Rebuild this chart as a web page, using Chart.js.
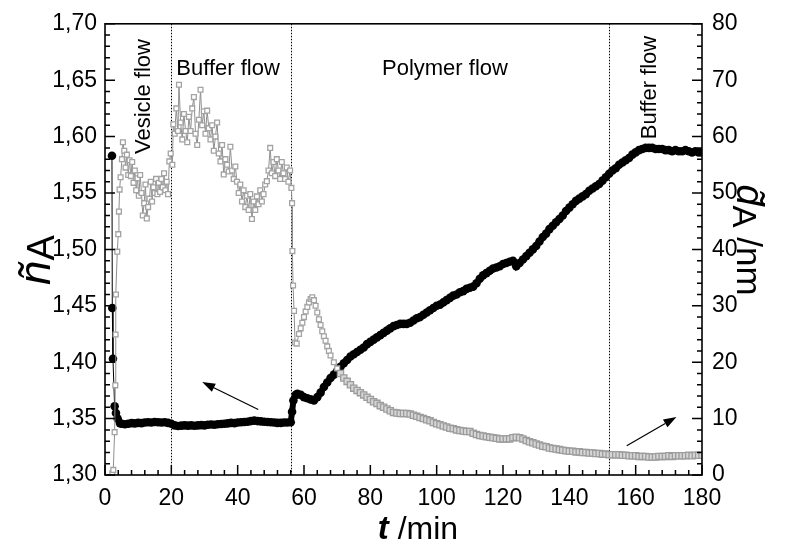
<!DOCTYPE html>
<html>
<head>
<meta charset="utf-8">
<script src="https://cdn.jsdelivr.net/npm/chart.js@4"></script>
<style>
html, body { margin: 0; padding: 0; background: #fff; }
#wrap { width: 789px; height: 547px; }
</style>
</head>
<body>
<div id="wrap"><canvas id="chart"></canvas></div>
<script>
// refractive index n_A (left axis), black circles
const t_n = [
    2.1, 2.2, 2.4, 2.9, 3.3, 3.8, 4.5,
    5, 6, 7, 8, 9, 10, 11, 12, 13, 14,
    15, 16, 17, 18, 19, 20, 21, 22, 23, 24,
    25, 26, 27, 28, 29, 30, 31, 32, 33, 34,
    35, 36, 37, 38, 39, 40, 41, 42, 43, 44,
    45, 46, 47, 48, 49, 50, 51, 52, 53, 54,
    55, 56, 56.4, 56.8, 57.5,
    58, 59, 60, 61, 62, 63, 64, 65, 66, 67,
    68, 69, 70, 71, 72, 73, 74, 75, 76, 77,
    78, 79, 80, 81, 82, 83, 84, 85, 86, 87,
    88, 89, 90, 91, 92, 93, 94, 95, 96, 97,
    98, 99, 100, 101, 102, 103, 104, 105, 106, 107,
    108, 109, 110, 111, 112, 113, 114, 115, 116, 117,
    118, 119, 120, 121, 122, 123, 124, 125, 126, 127,
    128, 129, 130, 131, 132, 133, 134, 135, 136, 137,
    138, 139, 140, 141, 142, 143, 144, 145, 146, 147,
    148, 149, 150, 151, 152, 153, 154, 155, 156, 157,
    158, 159, 160, 161, 162, 163, 164, 165, 166, 167,
    168, 169, 170, 171, 172, 173, 174, 175, 176, 177,
    178, 179, 180
];
const n_A = [
    1.583, 1.448, 1.403, 1.361, 1.355, 1.350, 1.346,
    1.3455, 1.3450, 1.3455, 1.3460, 1.3458, 1.3462, 1.3460, 1.3465, 1.3468, 1.3465,
    1.3470, 1.3468, 1.3466, 1.3468, 1.3462, 1.3455, 1.3440, 1.3435, 1.3438, 1.3440,
    1.3438, 1.3440, 1.3436, 1.3440, 1.3442, 1.3440, 1.3445, 1.3448, 1.3446, 1.3450,
    1.3452, 1.3455, 1.3458, 1.3462, 1.3460, 1.3465, 1.3468, 1.3470, 1.3472, 1.3478,
    1.3482, 1.3478, 1.3475, 1.3472, 1.3470, 1.3468, 1.3465, 1.3462, 1.3462, 1.3465,
    1.3466, 1.3468, 1.356, 1.366, 1.371,
    1.372, 1.371, 1.369, 1.368, 1.367, 1.366, 1.369, 1.373, 1.378, 1.382,
    1.386, 1.389, 1.392, 1.396, 1.399, 1.402, 1.405, 1.407, 1.409, 1.411,
    1.413, 1.416, 1.418, 1.420, 1.422, 1.424, 1.426, 1.428, 1.430, 1.432,
    1.433, 1.434, 1.434, 1.434, 1.435, 1.437, 1.439, 1.440, 1.442, 1.444,
    1.446, 1.448, 1.450, 1.451, 1.453, 1.455, 1.457, 1.459, 1.460, 1.462,
    1.463, 1.465, 1.466, 1.467, 1.470, 1.474, 1.477, 1.479, 1.481, 1.483,
    1.484, 1.485, 1.487, 1.488, 1.489, 1.490, 1.485, 1.488, 1.491, 1.494,
    1.497, 1.500, 1.503, 1.507, 1.511, 1.514, 1.518, 1.521, 1.524, 1.527,
    1.530, 1.534, 1.537, 1.540, 1.543, 1.545, 1.547, 1.549, 1.552, 1.554,
    1.556, 1.558, 1.561, 1.564, 1.567, 1.570, 1.572, 1.575, 1.577, 1.579,
    1.581, 1.584, 1.586, 1.588, 1.589, 1.590, 1.590, 1.590, 1.589, 1.589,
    1.589, 1.588, 1.588, 1.587, 1.588, 1.587, 1.587, 1.588, 1.587, 1.586,
    1.587, 1.586, 1.586
];

// thickness d_A in nm (right axis), open grey squares
const t_d = [
    2.2, 2.5, 2.9, 3.1, 3.2, 3.3, 3.7, 4.0, 4.2, 4.4, 4.7, 5.1, 5.4,
    5.8, 6.2, 6.6, 7.0, 7.4, 7.8, 8.2, 8.6, 9.0, 9.4,
    9.8, 10.2, 10.6, 11.0, 11.4, 11.8, 12.2, 12.6, 13.0, 13.4,
    13.8, 14.2, 14.6, 15.0, 15.4, 15.8, 16.2, 16.6, 17.0, 17.4,
    17.8, 18.2, 18.6, 19.0, 19.4, 19.8,
    20.3, 20.6, 21.0, 21.5, 22.0, 22.3, 22.8, 23.3, 23.8, 24.3,
    24.8, 25.3, 25.8, 26.3, 26.8, 27.3, 27.8, 28.3, 28.8, 29.3,
    29.8, 30.3, 30.8, 31.3, 31.8, 32.3, 32.8, 33.3, 33.8, 34.3,
    34.8, 35.3, 35.8, 36.3, 36.8, 37.3, 37.8, 38.3, 38.8, 39.3,
    39.8, 40.3, 40.8, 41.3, 41.8, 42.3, 42.8, 43.3, 43.8, 44.3,
    44.8, 45.3, 45.8, 46.3, 46.8, 47.3, 47.8, 48.3, 48.8, 49.3,
    49.8, 50.3, 50.8, 51.3, 51.8, 52.3, 52.8, 53.3, 53.8, 54.3,
    54.8, 55.3, 55.8, 56.2, 56.4, 56.5, 56.7, 57.0, 57.3,
    57.8, 58.5, 59.0, 59.5, 60.0, 60.5, 61.0, 61.5, 62.0, 62.5,
    63.0, 63.5, 64.0, 64.5, 65.0, 65.5, 66.0, 66.5, 67.0, 67.5, 68.0,
    69, 70, 71, 72, 73, 74, 75, 76, 77, 78,
    79, 80, 81, 82, 83, 84, 85, 86, 87, 88,
    89, 90, 91, 92, 93, 94, 95, 96, 97, 98,
    99, 100, 101, 102, 103, 104, 105, 106, 107, 108,
    109, 110, 111, 112, 113, 114, 115, 116, 117, 118,
    119, 120, 121, 122, 123, 124, 125, 126, 127, 128,
    129, 130, 131, 132, 133, 134, 135, 136, 137, 138,
    139, 140, 141, 142, 143, 144, 145, 146, 147, 148,
    149, 150, 151, 152, 153, 154, 155, 156, 157, 158,
    159, 160, 161, 162, 163, 164, 165, 166, 167, 168,
    169, 170, 171, 172, 173, 174, 175, 176, 177, 178,
    179, 180
];
const d_A = [
    0.3, 0.9, 7.6, 15.9, 24.9, 32.0, 39.6, 42.7, 46.7, 50.6, 52.8, 56.0, 59.0,
    57.5, 54.5, 56.8, 53.2, 55.8, 53.0, 55.5, 51.8, 54.0, 50.5,
    52.6, 49.5, 53.2, 50.0, 46.0, 48.2, 51.5, 45.5, 47.5, 49.0,
    52.0, 48.5, 51.0, 50.0, 52.5, 49.8, 51.8, 50.2, 52.5, 51.0,
    53.5, 50.5, 52.0, 49.8, 55.6, 57.0,
    55.0, 62.2, 60.5, 65.0, 61.0, 69.2, 62.5, 59.5, 64.0, 61.0,
    59.0, 63.5, 61.0, 65.0, 67.0, 60.5, 58.5, 63.0, 68.3, 62.0,
    64.5, 60.5, 64.6, 61.5, 59.5, 62.0, 57.5, 60.0, 62.5, 57.0,
    55.6, 58.5, 53.3, 56.0, 55.0, 53.8, 58.2, 54.0, 52.5, 54.7,
    52.0, 50.0, 51.5, 48.5, 50.5, 47.5, 49.5, 47.0, 49.8, 45.4,
    48.5, 47.0, 49.4, 48.0, 50.5, 48.5, 49.8, 51.5, 52.1, 54.0,
    58.0, 53.5, 55.5, 53.0, 56.0, 54.0, 52.5, 55.5, 53.5, 52.5,
    54.5, 52.0, 54.0, 50.9, 48.2, 39.7, 33.6, 29.1, 23.5,
    23.3, 25.0, 26.0, 27.0, 28.0, 29.0, 29.8, 30.6, 31.2, 31.5,
    31.0, 30.0, 28.8, 27.6, 26.6, 25.5, 24.6, 23.8, 22.8, 22.0, 21.2,
    20.0, 18.9, 18.0, 17.2, 16.6, 16.0, 15.4, 15.0, 14.6, 14.2,
    13.8, 13.4, 13.0, 12.7, 12.3, 12.0, 11.7, 11.4, 11.1, 11.0,
    10.9, 10.9, 10.9, 10.8, 10.6, 10.4, 10.2, 10.0, 9.8, 9.6,
    9.3, 9.1, 8.9, 8.7, 8.5, 8.3, 8.2, 8.0, 7.9, 7.8,
    7.7, 7.7, 7.4, 7.2, 7.0, 6.9, 6.8, 6.7, 6.6, 6.5,
    6.4, 6.4, 6.4, 6.4, 6.6, 6.7, 6.6, 6.4, 6.1, 5.9,
    5.7, 5.5, 5.3, 5.1, 5.0, 4.8, 4.7, 4.6, 4.5, 4.4,
    4.3, 4.2, 4.2, 4.1, 4.1, 4.0, 4.0, 3.9, 3.9, 3.8,
    3.8, 3.7, 3.7, 3.6, 3.6, 3.6, 3.6, 3.5, 3.5, 3.4,
    3.4, 3.4, 3.3, 3.3, 3.3, 3.2, 3.2, 3.2, 3.3, 3.3,
    3.3, 3.4, 3.3, 3.4, 3.4, 3.4, 3.4, 3.5, 3.4, 3.5,
    3.5, 3.5
];

const flow_lines = [20, 56, 152];
// label text, t, value on left axis, rotated?
const flow_labels = [
    ['Vesicle flow', 11.8, 1.6355, true],
    ['Buffer flow', 37.1, 1.660, false],
    ['Polymer flow', 102.5, 1.660, false],
    ['Buffer flow', 164.3, 1.6435, true]
];
// arrows: [t_from, v_from, t_to, v_to, axis]
const arrows = [
    [46.2, 1.358, 29.3, 1.3824, 'y'],
    [157.3, 5.2, 172.3, 10.3, 'y2']
];

const FONT = 'Liberation Sans, Arial, Helvetica, sans-serif';

function pts(xs, ys) {
    return xs.map((x, i) => ({x: x, y: ys[i]}));
}

function drawArrow(ctx, x1, y1, x2, y2) {
    const ang = Math.atan2(y2 - y1, x2 - x1);
    const len = 13, half = 4.5;
    const bx = x2 - len * Math.cos(ang), by = y2 - len * Math.sin(ang);
    ctx.beginPath();
    ctx.moveTo(x1, y1);
    ctx.lineTo(bx, by);
    ctx.stroke();
    ctx.beginPath();
    ctx.moveTo(x2, y2);
    ctx.lineTo(bx - half * Math.sin(ang), by + half * Math.cos(ang));
    ctx.lineTo(bx + half * Math.sin(ang), by - half * Math.cos(ang));
    ctx.closePath();
    ctx.fill();
}

// text made of parts with own font and baseline shift, centred at cx, baseline cy
function drawRich(ctx, parts, cx, cy, rot) {
    ctx.save();
    ctx.translate(cx, cy);
    ctx.rotate(rot);
    let w = 0;
    parts.forEach(p => { ctx.font = p.font; w += ctx.measureText(p.text).width; });
    let x = -w / 2;
    ctx.textBaseline = 'alphabetic';
    ctx.textAlign = 'left';
    parts.forEach(p => {
        ctx.font = p.font;
        ctx.fillText(p.text, x, p.dy || 0);
        x += ctx.measureText(p.text).width;
    });
    ctx.restore();
}

const decor = {
    id: 'decor',
    beforeDatasetsDraw(chart) {
        const {ctx, chartArea: a, scales: {x}} = chart;
        ctx.save();
        ctx.strokeStyle = '#000';
        ctx.lineWidth = 1;
        ctx.setLineDash([1.5, 1.5]);
        flow_lines.forEach(t => {
            const px = Math.round(x.getPixelForValue(t)) + 0.5;
            ctx.beginPath();
            ctx.moveTo(px, a.top);
            ctx.lineTo(px, a.bottom);
            ctx.stroke();
        });
        ctx.restore();
    },
    afterDatasetsDraw(chart) {
        const {ctx, chartArea: a, scales} = chart;
        const x = scales.x, y = scales.y, y2 = scales.y2;
        ctx.save();
        ctx.strokeStyle = '#000';
        ctx.fillStyle = '#000';

        // frame
        ctx.lineWidth = 1.6;
        ctx.strokeRect(a.left, a.top, a.right - a.left, a.bottom - a.top);

        // inward ticks, major and minor
        ctx.lineWidth = 1.5;
        ctx.beginPath();
        for (let i = 0; i <= 45; i++) {
            const px = x.getPixelForValue(i * 4);
            const l = i % 5 === 0 ? 10 : 5;
            ctx.moveTo(px, a.bottom);
            ctx.lineTo(px, a.bottom - l);
        }
        for (let i = 0; i <= 40; i++) {
            const py = y.getPixelForValue(1.30 + i * 0.01);
            const l = i % 5 === 0 ? 10 : 5;
            ctx.moveTo(a.left, py);
            ctx.lineTo(a.left + l, py);
            const py2 = y2.getPixelForValue(i * 2);
            ctx.moveTo(a.right, py2);
            ctx.lineTo(a.right - l, py2);
        }
        ctx.stroke();

        // flow labels
        ctx.font = '22px ' + FONT;
        ctx.textAlign = 'center';
        ctx.textBaseline = 'middle';
        flow_labels.forEach(([txt, t, v, rot]) => {
            const px = x.getPixelForValue(t), py = y.getPixelForValue(v);
            ctx.save();
            ctx.translate(px, py);
            if (rot) ctx.rotate(-Math.PI / 2);
            ctx.fillText(txt, 0, 0);
            ctx.restore();
        });

        // arrows
        ctx.lineWidth = 1.2;
        arrows.forEach(([t1, v1, t2, v2, ax]) => {
            const s = scales[ax];
            drawArrow(ctx, x.getPixelForValue(t1), s.getPixelForValue(v1),
                x.getPixelForValue(t2), s.getPixelForValue(v2));
        });

        // axis titles
        drawRich(ctx, [
            {text: 'ñ', font: 'italic 44px ' + FONT},
            {text: 'A', font: '38px ' + FONT, dy: 4}
        ], 50, 260, -Math.PI / 2);
        drawRich(ctx, [
            {text: 'd\u0303', font: 'italic 38px ' + FONT},
            {text: 'A', font: '33px ' + FONT, dy: 4},
            {text: ' /nm', font: '35px ' + FONT, dy: 0}
        ], 737, 240, Math.PI / 2);
        drawRich(ctx, [
            {text: 't', font: 'italic bold 33px ' + FONT},
            {text: ' /min', font: '32px ' + FONT}
        ], 418, 539, 0);
        ctx.restore();
    }
};

const tickFont = {family: FONT, size: 23};

new Chart(document.getElementById('chart'), {
    type: 'scatter',
    data: {
        datasets: [{
            label: 'd_A',
            data: pts(t_d, d_A),
            yAxisID: 'y2',
            showLine: true,
            borderColor: '#8f8f8f',
            borderWidth: 1,
            pointStyle: 'rect',
            pointRadius: c => (c.raw && c.raw.x > 70) ? 4.4 : 3.4,
            pointBorderWidth: 1.3,
            pointBorderColor: c => (c.raw && c.raw.x > 70) ? '#9c9c9c' : '#a3a3a3',
            pointBackgroundColor: c => (c.raw && c.raw.x > 70) ? '#d6d6d6' : '#fff'
        }, {
            label: 'n_A',
            data: pts(t_n, n_A),
            yAxisID: 'y',
            showLine: true,
            borderColor: '#000',
            borderWidth: 1,
            segment: {
                borderWidth: c => c.p0.parsed.x > 4 ? 6 : 1
            },
            pointRadius: 4.3,
            pointBorderWidth: 0,
            pointBackgroundColor: '#000'
        }]
    },
    options: {
        responsive: true,
        maintainAspectRatio: false,
        devicePixelRatio: 1,
        animation: false,
        layout: {padding: {top: 22, left: 0, right: 0, bottom: 0}},
        plugins: {legend: {display: false}, tooltip: {enabled: false}},
        scales: {
            x: {
                type: 'linear', min: 0, max: 180,
                ticks: {stepSize: 20, font: tickFont, color: '#000', padding: 10, maxRotation: 0},
                grid: {display: false, drawTicks: false},
                border: {display: false},
                afterFit(s) { s.height = 72; }
            },
            y: {
                position: 'left', min: 1.30, max: 1.70,
                ticks: {
                    stepSize: 0.05, font: tickFont, color: '#000', padding: 8,
                    callback: v => v.toFixed(2).replace('.', ',')
                },
                grid: {display: false, drawTicks: false},
                border: {display: false},
                afterFit(s) { s.width = 105; }
            },
            y2: {
                position: 'right', min: 0, max: 80,
                ticks: {stepSize: 10, font: tickFont, color: '#000', padding: 10},
                grid: {display: false, drawTicks: false},
                border: {display: false},
                afterFit(s) { s.width = 87; }
            }
        }
    },
    plugins: [decor]
});
</script>
</body>
</html>
